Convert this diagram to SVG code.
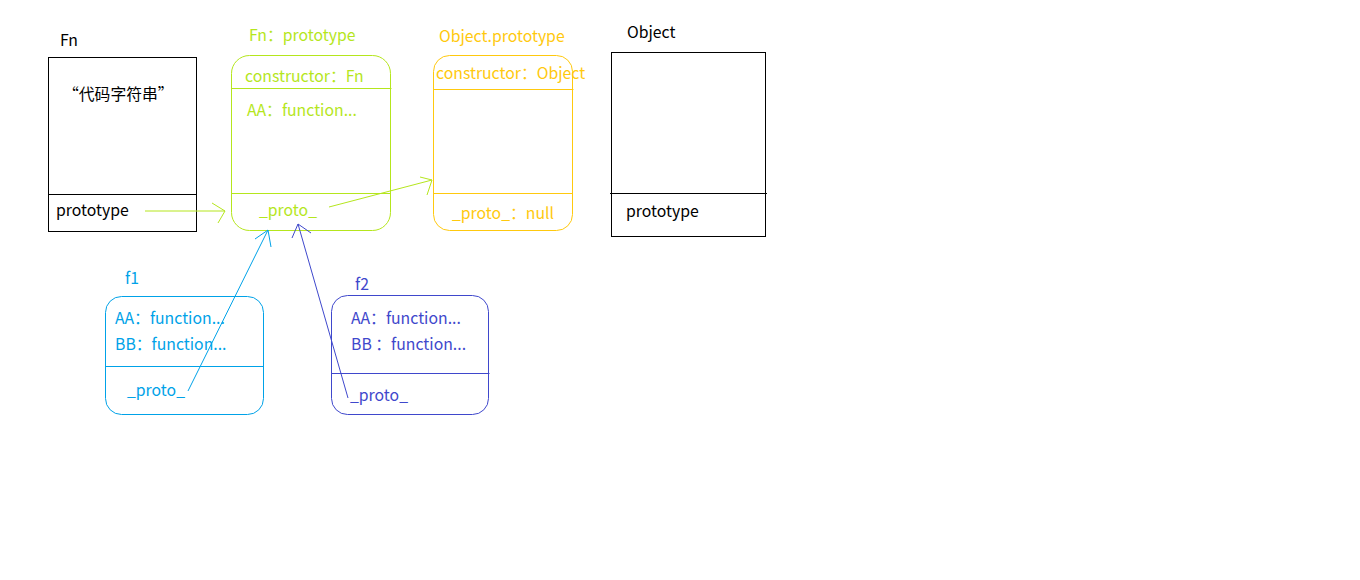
<svg xmlns="http://www.w3.org/2000/svg" width="1360" height="580" viewBox="0 0 1360 580">
<style>
text{font-family:"Microsoft YaHei","Noto Sans CJK SC","Noto Sans",sans-serif;font-size:15.8px}
.k{fill:#000}
.g{fill:#b5e61d}.gs{stroke:#b5e61d}
.y{fill:#ffc90e}.ys{stroke:#ffc90e}
.c{fill:#00a2e8}.cs{stroke:#00a2e8}
.b{fill:#3f48cc}.bs{stroke:#3f48cc}
.box{fill:none;stroke-width:1}
line,path{fill:none;stroke-width:1}
</style>
<rect width="1360" height="580" fill="#fff"/>
<g id="Fn">
<text class="k" x="60" y="46">Fn</text>
<rect class="box" x="48.5" y="57.5" width="148" height="174" stroke="#000"/>
<line x1="48.5" y1="194.5" x2="196.5" y2="194.5" stroke="#000"/>
<text class="k" x="63" y="100">“代码字符串”</text>
<text class="k" x="56" y="216">prototype</text>
</g>
<g id="FnPrototype">
<text class="g" x="249" y="41">Fn：prototype</text>
<rect class="box gs" x="231.5" y="55.5" width="159" height="175" rx="18"/>
<line class="gs" x1="231.5" y1="88.5" x2="391.5" y2="88.5"/>
<line class="gs" x1="231.5" y1="193.5" x2="390.5" y2="193.5"/>
<text class="g" x="245" y="82">constructor：Fn</text>
<text class="g" x="247" y="116">AA：function...</text>
<text class="g" x="259" y="216">_proto_</text>
</g>
<g id="ObjectPrototype">
<text class="y" x="439" y="42">Object.prototype</text>
<rect class="box ys" x="433.5" y="55.5" width="139" height="175" rx="16"/>
<line class="ys" x1="433.5" y1="89.5" x2="573.5" y2="89.5"/>
<line class="ys" x1="433.5" y1="193.5" x2="572.5" y2="193.5"/>
<text class="y" x="436" y="79">constructor：Object</text>
<text class="y" x="452" y="219">_proto_：null</text>
</g>
<g id="Object">
<text class="k" x="627" y="38">Object</text>
<rect class="box" x="611.5" y="52.5" width="154" height="184" stroke="#000"/>
<line x1="610" y1="193.5" x2="767" y2="193.5" stroke="#000"/>
<text class="k" x="626" y="217">prototype</text>
</g>
<g id="f1">
<text class="c" x="125" y="284">f1</text>
<rect class="box cs" x="105.5" y="296.5" width="158" height="118" rx="16"/>
<line class="cs" x1="105.5" y1="366.5" x2="263.5" y2="366.5"/>
<text class="c" x="115" y="324">AA：function...</text>
<text class="c" x="115" y="350">BB：function...</text>
<text class="c" x="127" y="396">_proto_</text>
</g>
<g id="f2">
<text class="b" x="355" y="290">f2</text>
<rect class="box bs" x="331.5" y="295.5" width="157" height="119" rx="16"/>
<line class="bs" x1="331.5" y1="373.5" x2="489.5" y2="373.5"/>
<text class="b" x="351" y="324">AA：function...</text>
<text class="b" x="351" y="350">BB ：function...</text>
<text class="b" x="350" y="401">_proto_</text>
</g>
<g id="connectors">
<path class="gs" d="M145 211 L225 211 M212 203 L225 211 L218 223"/>
<path class="gs" d="M329 207 L432 180 M420 177 L432 180 L427 195"/>
<path class="cs" d="M188 391 L268 230 M255 239 L268 230 L271 247"/>
<path class="bs" d="M348 398 L298 224 M292 238 L298 224 L311 233"/>
</g>
</svg>
